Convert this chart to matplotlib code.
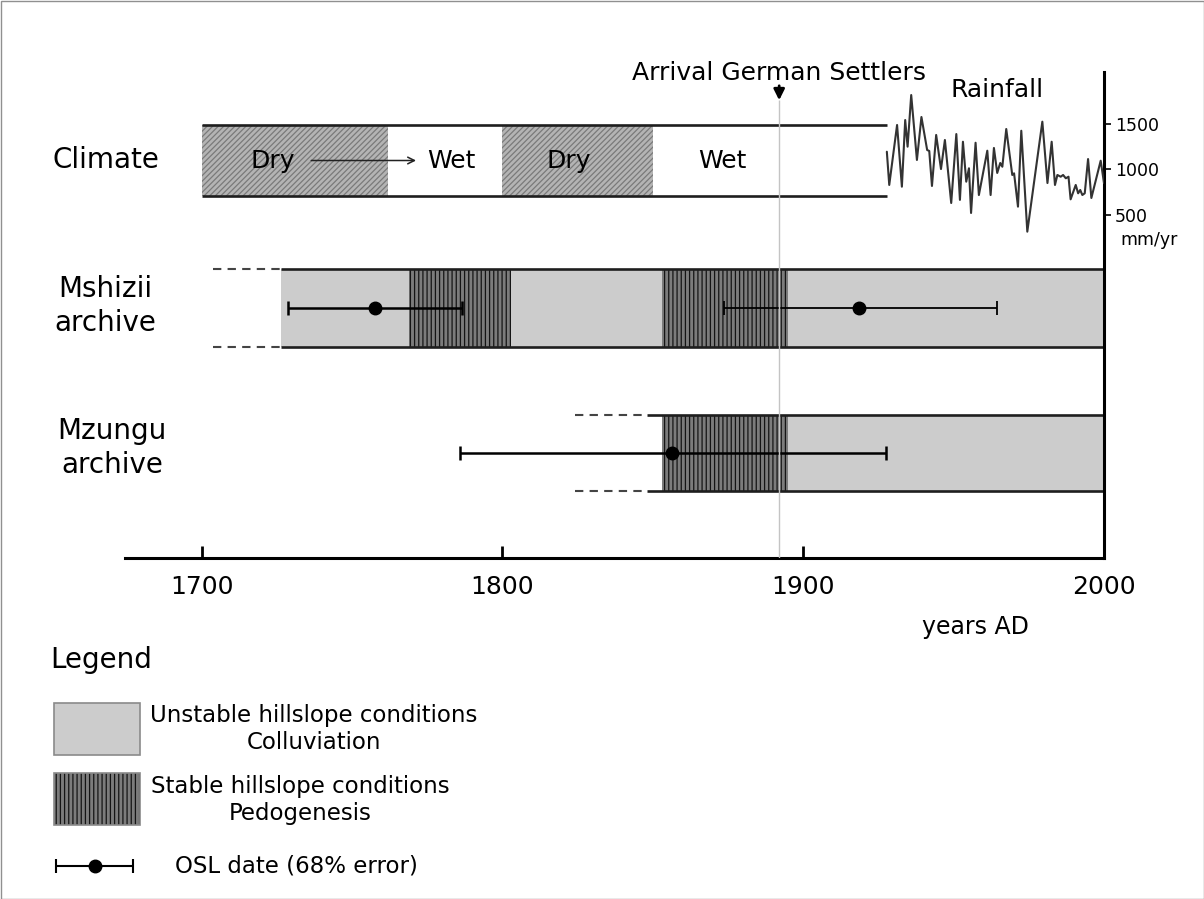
import matplotlib.pyplot as plt
from matplotlib.patches import Rectangle

plt.rcParams['font.family'] = ['DejaVu Sans']
plt.rcParams['hatch.linewidth'] = 0.9

# climate phases (years AD)
climate_labels = ["Dry", "Wet", "Dry", "Wet"]
climate_start = [1700, 1762, 1800, 1850]
climate_end = [1762, 1800, 1850, 1928]
climate_text_x = [1723.5, 1783, 1822, 1873]

# Mshizii archive
mshizii_span = (1726.4, 2000)
mshizii_dash = (1703.7, 1726.4)
mshizii_stable = [(1768.8, 1803.0), (1853.0, 1895.0)]
mshizii_osl = [1757.5, 1918.5]
mshizii_osl_lo = [1728.7, 1873.8]
mshizii_osl_hi = [1786.4, 1964.5]

# Mzungu archive
mzungu_span = (1853.0, 2000)
mzungu_line_start = 1848.0
mzungu_dash = (1824.0, 1848.0)
mzungu_stable = [(1853.0, 1895.0)]
mzungu_osl = [1856.5]
mzungu_osl_lo = [1785.8]
mzungu_osl_hi = [1927.5]

settlers_year = 1892

# annual rainfall (mm/yr)
rain_year = [1927.8, 1928.6, 1931.2, 1932.8, 1933.9, 1934.7, 1935.9, 1937.8, 1939.3, 1941.2,
             1941.9, 1942.8, 1944.2, 1945.8, 1947.1, 1949.2, 1950.9, 1952.1, 1953.1, 1954.2,
             1955.1, 1955.8, 1957.3, 1958.4, 1961.2, 1962.3, 1963.4, 1964.5, 1965.5, 1966.2,
             1967.5, 1969.5, 1970.1, 1971.4, 1972.5, 1974.5, 1979.5, 1981.2, 1982.6, 1983.7,
             1984.5, 1985.6, 1986.4, 1987.3, 1988.2, 1988.9, 1990.6, 1991.4, 1992.1, 1992.8,
             1993.6, 1994.7, 1995.8, 1998.9, 2000.0]
rain_mm = [1192, 829, 1484, 810, 1538, 1247, 1811, 1102, 1571, 1211,
           1200, 818, 1375, 1003, 1320, 632, 1385, 666, 1301, 865,
           1011, 523, 1290, 719, 1203, 719, 1233, 960, 1069, 1028,
           1440, 938, 956, 592, 1421, 319, 1520, 850, 1301, 829,
           938, 919, 938, 902, 919, 672, 829, 738, 774, 719,
           738, 1112, 687, 1094, 850]

# row bands, measured downward from the top of the plot area
climate_row = (53, 124)
mshizii_row = (197, 275)
mzungu_row = (343, 419)

unstable_color = '#cccccc'
stable_face, stable_hatch = '#7c7c7c', '#151515'
dry_face, dry_hatch = '#b4b4b4', '#7a7a7a'
line_color = '#1e1e1e'

fig = plt.figure(figsize=(12.04, 8.99), dpi=100)

# background canvas in pixel units for labels and the legend
canvas = fig.add_axes([0, 0, 1, 1])
canvas.set_xlim(0, 1204)
canvas.set_ylim(899, 0)
canvas.axis('off')

ax = fig.add_axes([125 / 1204, (899 - 558) / 899, 979 / 1204, 486 / 899])
ax.set_xlim(1674.5, 2000)
ax.set_ylim(486, 0)
ax.patch.set_visible(False)


def band(row, start, end, **kw):
    top, bot = row
    ax.barh((top + bot) / 2, end - start, left=start, height=bot - top,
            linewidth=0, zorder=1, **kw)


# climate bar
for lab, s, e, tx in zip(climate_labels, climate_start, climate_end, climate_text_x):
    if lab == "Dry":
        band(climate_row, s, e, facecolor=dry_face, edgecolor=dry_hatch, hatch='//////')
    ax.text(tx, sum(climate_row) / 2, lab, fontsize=18, ha='center', va='center', zorder=4)
ax.hlines(climate_row, climate_start[0], climate_end[-1], color=line_color, lw=1.9, zorder=3)
ax.annotate('', xy=(1772.2, sum(climate_row) / 2), xytext=(1735.5, sum(climate_row) / 2),
            arrowprops=dict(arrowstyle='->', color='#222222', lw=1.1, mutation_scale=12),
            zorder=4)


def archive(row, span, line_start, dash, stable):
    band(row, span[0], span[1], facecolor=unstable_color, edgecolor=unstable_color)
    for s, e in stable:
        band(row, s, e, facecolor=stable_face, edgecolor=stable_hatch, hatch='||||')
    ax.hlines(row, line_start, span[1], color=line_color, lw=1.9, zorder=3)
    ax.hlines(row, dash[0], dash[1], color='#444444', lw=1.5,
              linestyles=(0, (4, 3)), zorder=3)


archive(mshizii_row, mshizii_span, mshizii_span[0], mshizii_dash, mshizii_stable)
archive(mzungu_row, mzungu_span, mzungu_line_start, mzungu_dash, mzungu_stable)

# OSL dates with 68% error
for x, lo, hi, lw in zip(mshizii_osl, mshizii_osl_lo, mshizii_osl_hi, [1.8, 1.3]):
    ax.errorbar([x], [sum(mshizii_row) / 2], xerr=[[x - lo], [hi - x]], fmt='o',
                color='black', ms=9, elinewidth=lw, capsize=5, capthick=lw, zorder=5)
for x, lo, hi in zip(mzungu_osl, mzungu_osl_lo, mzungu_osl_hi):
    ax.errorbar([x], [sum(mzungu_row) / 2], xerr=[[x - lo], [hi - x]], fmt='o',
                color='black', ms=9, elinewidth=1.8, capsize=5, capthick=1.8, zorder=5)

# arrival of German settlers
ax.vlines(settlers_year, 28, 486, color='#c4c4c4', lw=1.0, zorder=6)
ax.annotate('', xy=(settlers_year, 31), xytext=(settlers_year, 11),
            arrowprops=dict(arrowstyle='-|>', color='black', lw=2, mutation_scale=16),
            annotation_clip=False)
ax.text(settlers_year, 1, 'Arrival German Settlers', fontsize=18, ha='center',
        va='center', clip_on=False)

# axes styling
for side in ['top', 'left', 'right']:
    ax.spines[side].set_visible(False)
ax.spines['bottom'].set_linewidth(2.2)
ax.set_yticks([])
ax.set_xticks([1700, 1800, 1900, 2000])
ax.tick_params(axis='x', direction='in', length=9, width=2, labelsize=18, pad=12)

# rainfall series on its own scale
ax2 = ax.twinx()
ax2.set_ylim(-3244.6, 2062.5)
ax2.plot(rain_year, rain_mm, color='#333333', lw=1.5, zorder=3,
         solid_joinstyle='round', solid_capstyle='round')
for side in ['top', 'left', 'bottom']:
    ax2.spines[side].set_visible(False)
ax2.spines['right'].set_linewidth(2.2)
ax2.set_yticks([500, 1000, 1500])
ax2.tick_params(axis='y', direction='out', length=5, width=1.2, labelsize=12.5, pad=3)
ax2.text(2005.6, 228, 'mm/yr', fontsize=12.5, ha='left', va='center', clip_on=False)
ax2.text(1964.5, 1865, 'Rainfall', fontsize=18, ha='center', va='center')

# row labels
canvas.text(106, 160, 'Climate', fontsize=20, ha='center', va='center')
canvas.text(105, 306, 'Mshizii\narchive', fontsize=20, ha='center', va='center',
            linespacing=1.25)
canvas.text(112, 448, 'Mzungu\narchive', fontsize=20, ha='center', va='center',
            linespacing=1.25)
canvas.text(975, 627, 'years AD', fontsize=17, ha='center', va='center')

# legend
canvas.text(50, 660, 'Legend', fontsize=20, ha='left', va='center')
canvas.add_patch(Rectangle((54, 703), 86, 52, facecolor=unstable_color,
                           edgecolor='#8a8a8a', lw=1.2))
canvas.add_patch(Rectangle((54, 773), 86, 52, facecolor=stable_face,
                           edgecolor=stable_hatch, hatch='||||', lw=0))
canvas.add_patch(Rectangle((54, 773), 86, 52, fill=False, edgecolor='#8a8a8a', lw=1.2))
canvas.text(314, 729, 'Unstable hillslope conditions\nColluviation', fontsize=16.5,
            ha='center', va='center', multialignment='center')
canvas.text(300, 800, 'Stable hillslope conditions\nPedogenesis', fontsize=16.5,
            ha='center', va='center', multialignment='center')
canvas.errorbar([95], [866], xerr=[[39], [38]], fmt='o', color='black', ms=9,
                elinewidth=1.5, capsize=5, capthick=1.5)
canvas.text(175, 866, 'OSL date (68% error)', fontsize=16.5, ha='left', va='center')

# thin frame around the figure
canvas.add_patch(Rectangle((0.5, 0.5), 1203, 898, fill=False, edgecolor='#909090',
                           lw=1, clip_on=False))

fig.savefig('out.png', dpi=100)
